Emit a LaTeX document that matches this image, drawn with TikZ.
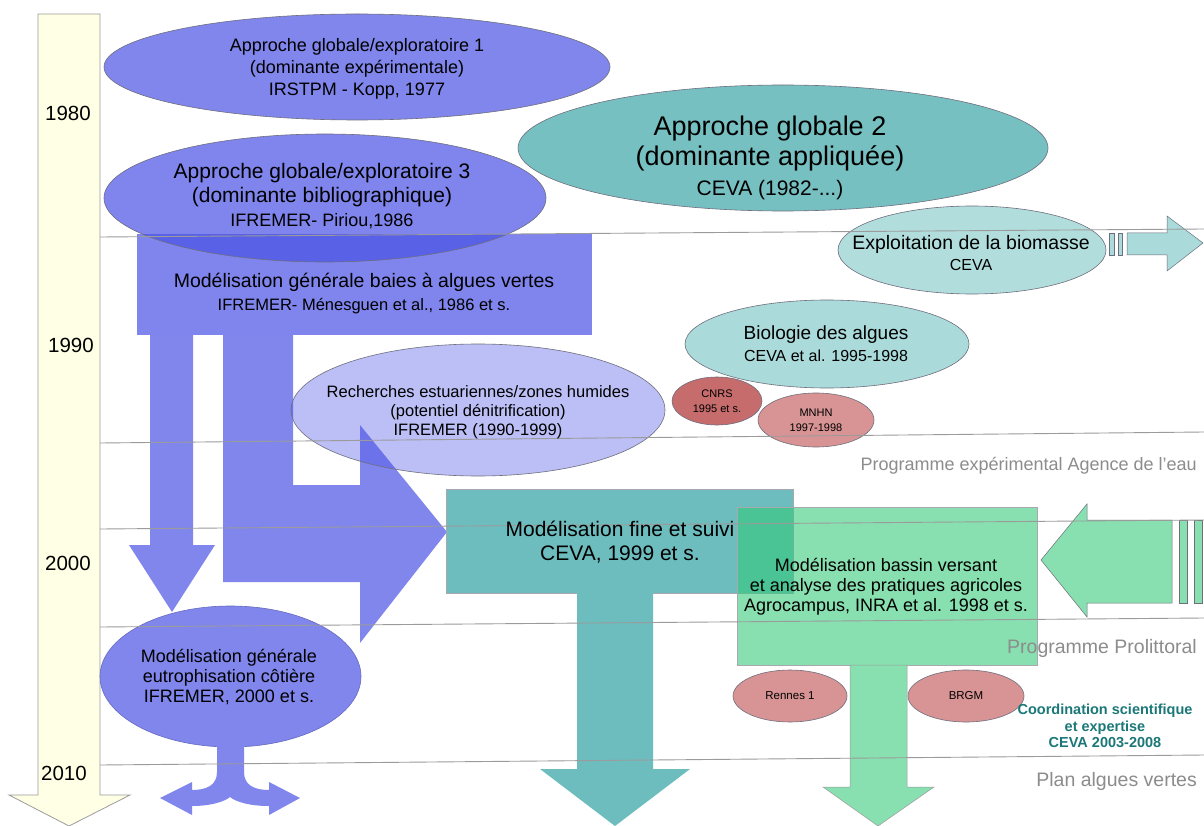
\documentclass[tikz,border=0pt]{standalone}
\usepackage{fontspec}
\setmainfont{Liberation Sans}
\usetikzlibrary{shapes.geometric}
\definecolor{blueA}{RGB}{128,134,236}
\definecolor{blueT}{RGB}{74,82,228}
\definecolor{tealA}{RGB}{109,188,190}
\definecolor{tealL}{RGB}{170,218,218}
\definecolor{greenA}{RGB}{136,224,176}
\definecolor{greenT}{RGB}{50,202,119}
\definecolor{redD}{RGB}{198,108,108}
\definecolor{redL}{RGB}{216,148,148}
\definecolor{timeY}{RGB}{255,255,229}
\definecolor{lineG}{RGB}{155,155,155}
\definecolor{edgeG}{RGB}{110,110,125}
\definecolor{textG}{RGB}{140,140,140}
\definecolor{coordT}{RGB}{28,120,120}
\newcommand\fsz[2]{\fontsize{#1}{#2}\selectfont}
\begin{document}
\begin{tikzpicture}[x=1pt,y=-1pt,
  ell/.style={ellipse, draw=edgeG, line width=0.6pt, inner sep=0pt},
  boxs/.style={rectangle, inner sep=0pt},
  txt/.style={align=center, inner sep=0pt, text=black},
  gtxt/.style={anchor=east, inner sep=0pt, text=textG},
  hline/.style={draw=lineG, line width=0.9pt},
  blockarrow/.style={draw=edgeG, line width=0.5pt}]
\fill[white] (0,0) rectangle (1204,826);
\useasboundingbox (0,0) rectangle (1204,826);

% timeline
\filldraw[fill=timeY, draw=lineG, line width=0.8pt] (38,14) -- (100,14) -- (100,795) -- (130,795) -- (69,826) -- (9,795) -- (38,795) -- cycle;

% top ellipses
\node[ell, fill=blueA, minimum width=506, minimum height=106] (e1) at (357,67) {};
\node[boxs, fill=blueT, fill opacity=0.7, minimum width=455, minimum height=101] (r1) at (364.5,284.5) {};
\node[ell, fill=blueT, fill opacity=0.7, minimum width=442, minimum height=128] (e3) at (325,198) {};
\node[ell, fill=tealA, fill opacity=0.93, minimum width=530, minimum height=126] (e2) at (783,148) {};
\node[ell, fill=tealL, fill opacity=0.9, minimum width=268, minimum height=88] (ex) at (972,250) {};

% exploitation arrow
\filldraw[fill=tealL, blockarrow] (1109,233) rectangle (1114,255);
\filldraw[fill=tealL, blockarrow] (1118,233) rectangle (1122,255);
\filldraw[fill=tealL, blockarrow] (1127,233) -- (1167,233) -- (1167,216) -- (1203,243) -- (1167,271) -- (1167,255) -- (1127,255) -- cycle;

% blue arrows
\fill[blueA] (150,335) -- (193,335) -- (193,545) -- (215,545) -- (172,612) -- (129,545) -- (150,545) -- cycle;
\fill[blueA] (223,335) -- (293,335) -- (293,485) -- (360,485) -- (360,425) -- (447,532) -- (360,643) -- (360,582) -- (223,582) -- cycle;

% recherches ellipse
\node[ell, fill=blueT, fill opacity=0.37, minimum width=374, minimum height=132] (rech) at (478,410) {};

% biologie & partners
\node[ell, fill=tealL, minimum width=284, minimum height=88] (bio) at (827,344) {};
\node[ell, fill=redD, minimum width=90, minimum height=48] (cnrs) at (717,401) {};
\node[ell, fill=redL, minimum width=116, minimum height=54] (mnhn) at (816,420) {};

% teal rect and arrow
\node[boxs, fill=tealA, draw=edgeG!60, line width=0.4pt, minimum width=347, minimum height=104] (r2) at (619.5,541) {};
\fill[tealA] (577,593) -- (653,593) -- (653,769) -- (690,769) -- (615,826) -- (540,769) -- (577,769) -- cycle;

% green rect and arrows
\node[boxs, fill=greenT, fill opacity=0.58, draw=edgeG!60, line width=0.4pt, minimum width=300, minimum height=158] (r3) at (887,586) {};
\filldraw[fill=greenA, draw=lineG, line width=0.5pt] (850,665) -- (907,665) -- (907,787) -- (934,787) -- (878,826) -- (823,787) -- (850,787) -- cycle;
\filldraw[fill=greenA, blockarrow] (1172,520) -- (1087,520) -- (1087,504) -- (1041,560) -- (1087,617) -- (1087,603) -- (1172,603) -- cycle;
\filldraw[fill=greenA, blockarrow] (1179,520) rectangle (1187,603);
\filldraw[fill=greenA, blockarrow] (1194,520) rectangle (1202,603);

% eutrophisation ellipse and split arrow
\node[ell, fill=blueA, draw=blueA!80!black, minimum width=261, minimum height=141] (eu) at (230.5,676.5) {};
\fill[blueA] (217,746) -- (244,746) -- (244,772) .. controls (244,785) and (254,790) .. (269,790) -- (269,782) -- (300,798) -- (269,815) -- (269,806) .. controls (250,806) and (236,802) .. (230,797) .. controls (224,802) and (210,806) .. (192,806) -- (192,815) -- (160,798) -- (192,782) -- (192,790) .. controls (207,790) and (217,785) .. (217,772) -- cycle;

% Rennes / BRGM
\node[ell, fill=redL, minimum width=114, minimum height=52] (ren) at (790,696) {};
\node[ell, fill=redL, minimum width=116, minimum height=52] (brgm) at (966,696) {};

% horizontal lines
\draw[hline] (100,237) -- (1204,229);
\draw[hline] (100,443) -- (1204,432);
\draw[hline] (100,529) -- (1204,520);
\draw[hline] (100,627) -- (1204,618);
\draw[hline] (100,765) -- (1204,755);

% years
\node[txt, font=\fsz{20.5}{24}] (y1980) at (68,113) {1980};
\node[txt, font=\fsz{20.5}{24}] (y1990) at (71,345) {1990};
\node[txt, font=\fsz{20.5}{24}] (y2000) at (68,563) {2000};
\node[txt, font=\fsz{20.5}{24}] (y2010) at (64,773) {2010};

% texts
\node[txt, font=\fsz{18}{22}] (e1t) at (357,69) {Approche globale/exploratoire 1\\ (dominante expérimentale)\\ IRSTPM - Kopp, 1977};
\node[txt, font=\fsz{21}{24}] (e3t) at (322,196) {Approche globale/exploratoire 3\\(dominante bibliographique)\\\fsz{18}{21}IFREMER- Piriou,1986};
\node[txt, font=\fsz{27}{30}] (e2t) at (770,158) {Approche globale 2\\(dominante appliquée)\\\fsz{21}{27}CEVA (1982-...)};
\node[txt, font=\fsz{19.5}{23}] (r1t) at (364,294) {Modélisation générale baies à algues vertes\\\fsz{16.5}{22}IFREMER- Ménesguen et al., 1986 et s.};
\node[txt, font=\fsz{19.5}{21}] (ext) at (971,253) {Exploitation de la biomasse\\\fsz{16}{19}CEVA};
\node[txt, font=\fsz{16.5}{19}] (recht) at (478,412) {Recherches estuariennes/zones humides\\(potentiel dénitrification)\\IFREMER (1990-1999)};
\node[txt, font=\fsz{19}{22}] (biot) at (826,344) {Biologie des algues\\\fsz{16}{21}CEVA et al. 1995-1998};
\node[txt, font=\fsz{11}{15}] (cnrst) at (717,401) {CNRS\\1995 et s.};
\node[txt, font=\fsz{11}{15}] (mnhnt) at (816,420) {MNHN\\1997-1998};
\node[txt, font=\fsz{21}{24}] (r2t) at (620,542) {Modélisation fine et suivi\\CEVA, 1999 et s.};
\node[txt, font=\fsz{18}{20}] (r3t) at (886,587) {Modélisation bassin versant\\et analyse des pratiques agricoles\\Agrocampus, INRA et al. 1998 et s.};
\node[txt, font=\fsz{18}{20}] (eut) at (229,677) {Modélisation générale\\eutrophisation côtière\\IFREMER, 2000 et s.};
\node[txt, font=\fsz{11.5}{14}] (rent) at (790,696) {Rennes 1};
\node[txt, font=\fsz{11.5}{14}] (brgmt) at (966,696) {BRGM};
\node[gtxt, font=\fsz{18}{22}] (pexp) at (1197,466) {Programme expérimental Agence de l'eau};
\node[gtxt, font=\fsz{19.5}{22}] (ppro) at (1197,648) {Programme Prolittoral};
\node[gtxt, font=\fsz{19.5}{22}] (palg) at (1197,781) {Plan algues vertes};
\node[txt, text=coordT, font=\bfseries\fsz{14.5}{16.5}] (coord) at (1105,726) {Coordination scientifique\\et expertise\\CEVA 2003-2008};
\end{tikzpicture}
\end{document}
